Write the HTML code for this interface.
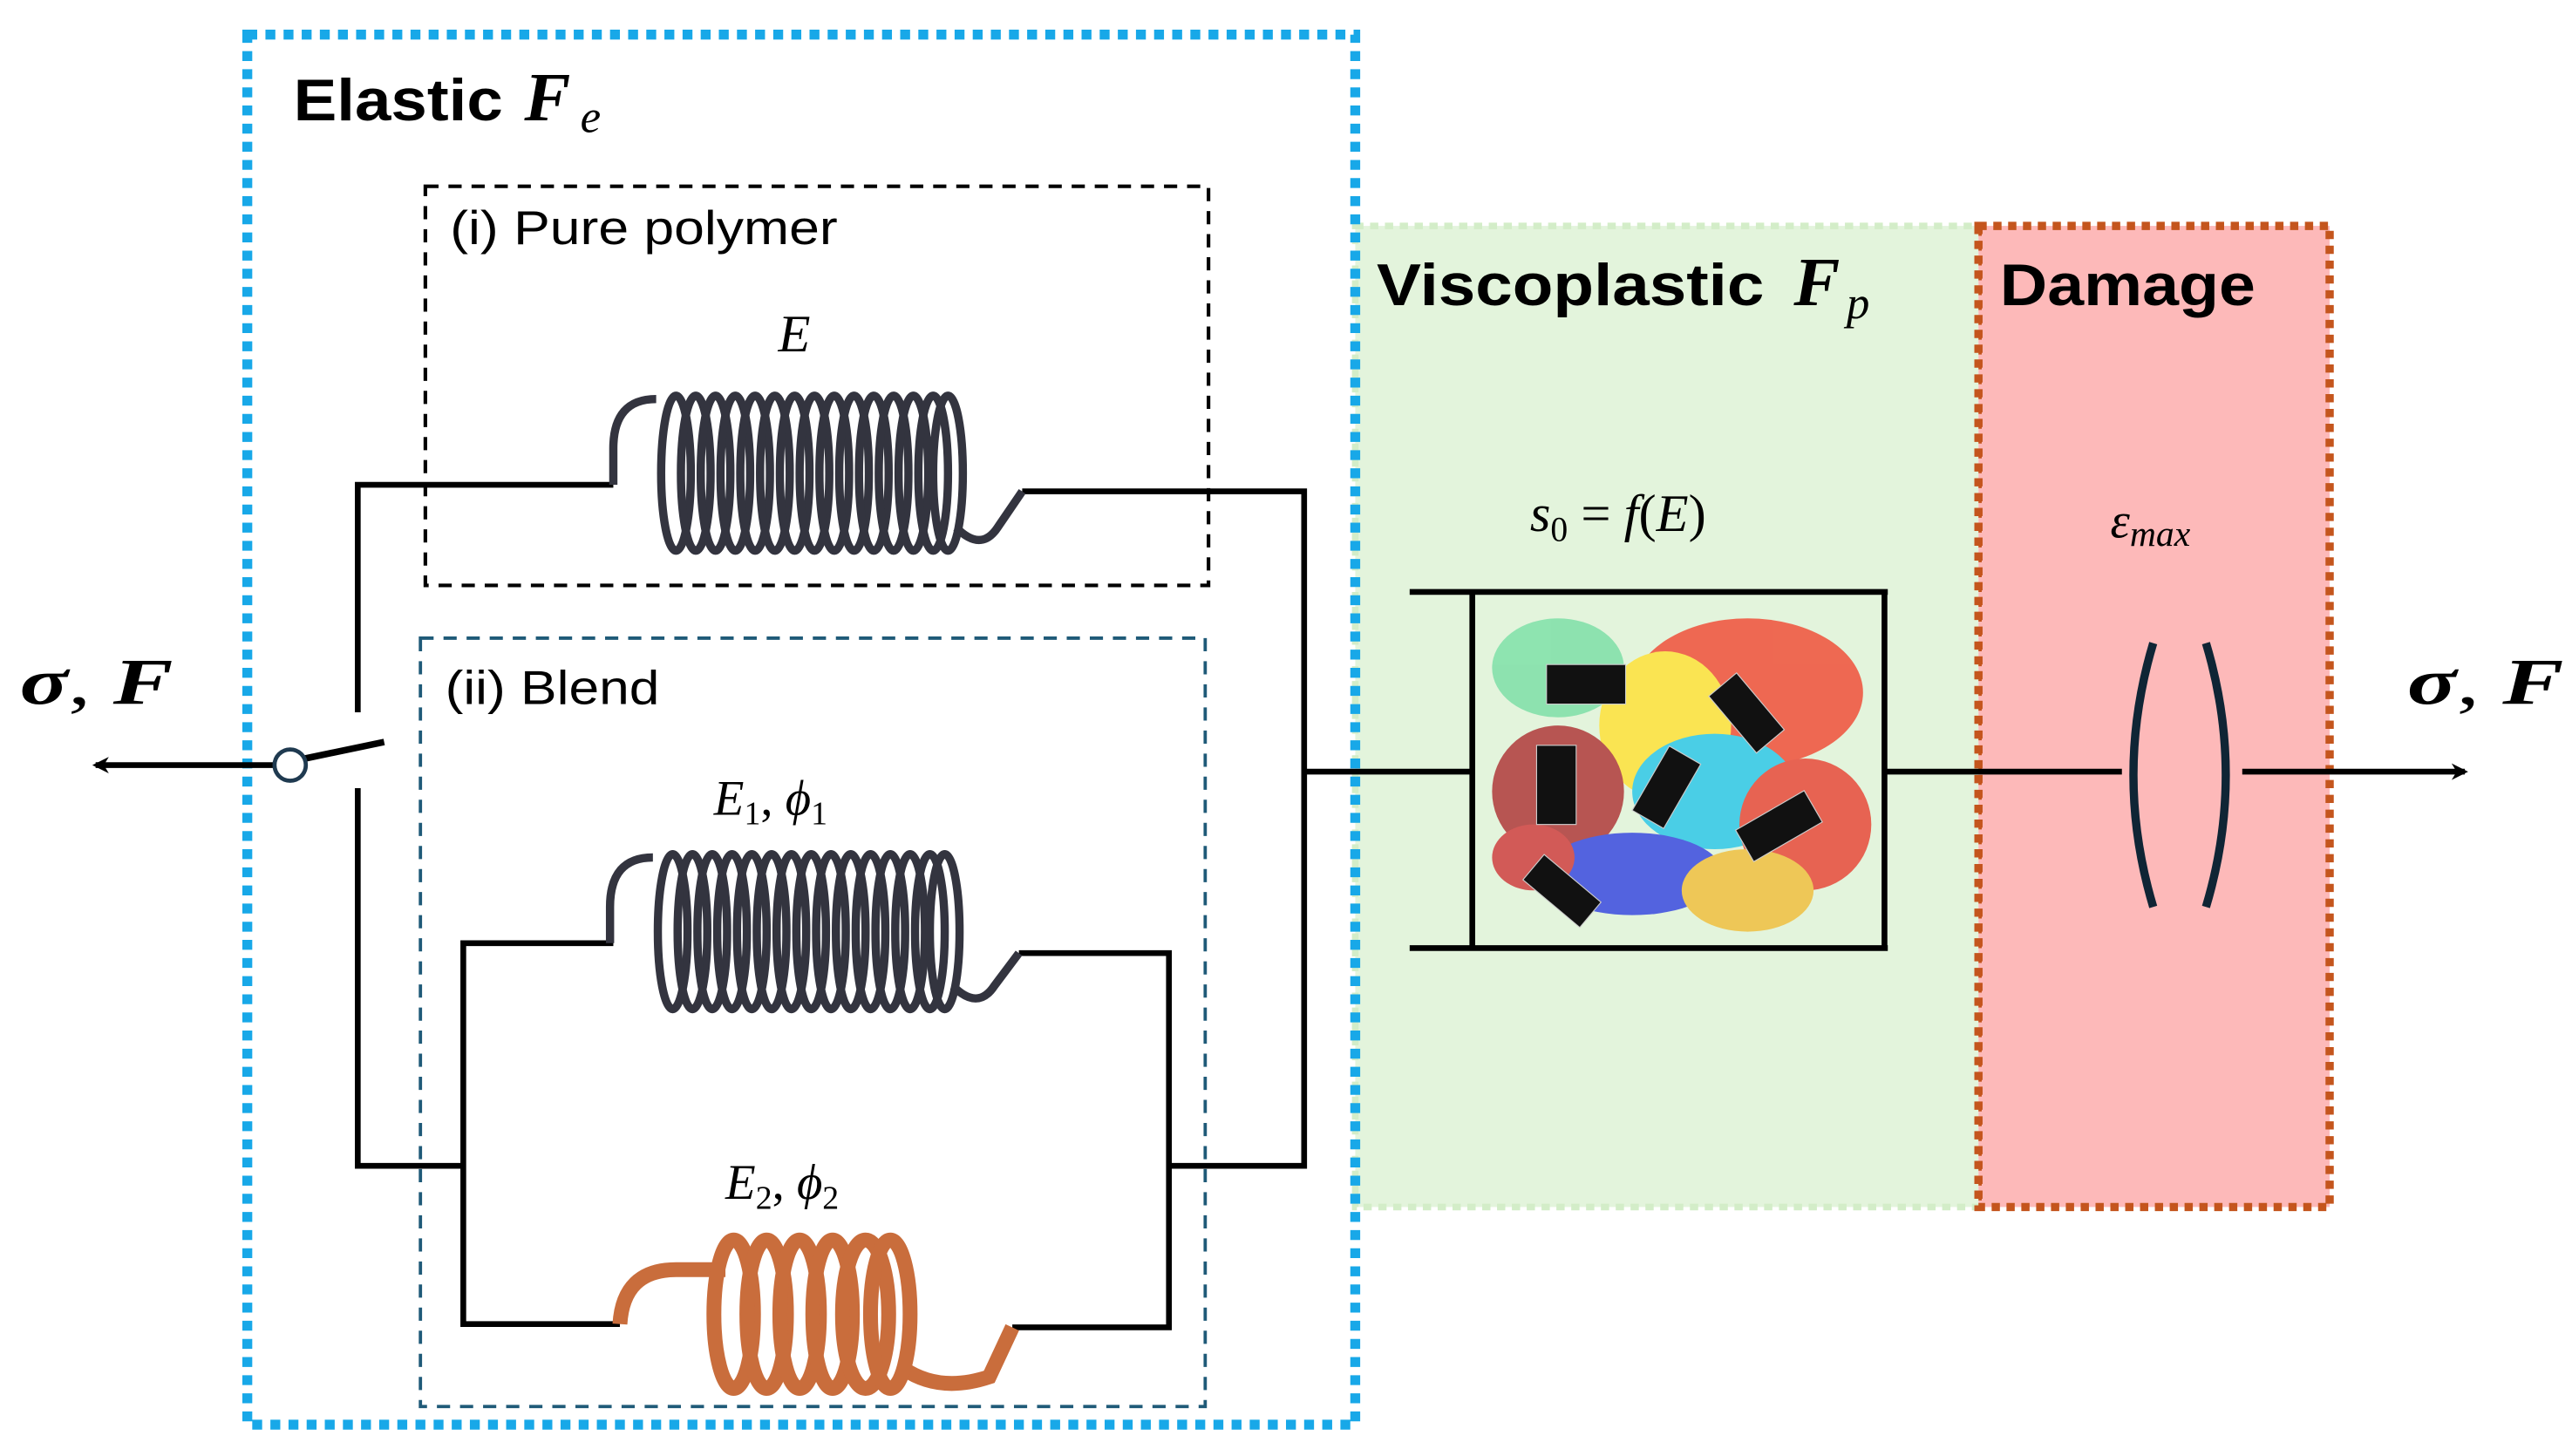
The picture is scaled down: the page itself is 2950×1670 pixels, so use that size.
<!DOCTYPE html>
<html><head><meta charset="utf-8"><style>
html,body{margin:0;padding:0;background:#fff}
svg{display:block}
.t{font-family:"Liberation Sans",sans-serif}
.m{font-family:"Liberation Serif",serif;font-style:italic}
</style></head><body>
<svg width="2950" height="1670" viewBox="0 0 1560 883" preserveAspectRatio="none" xmlns="http://www.w3.org/2000/svg">
<defs>
<marker id="ah" markerWidth="10" markerHeight="10" refX="8" refY="5" orient="auto" markerUnits="userSpaceOnUse"><path d="M0,0 L10,5 L0,10 L3,5 Z" fill="#000"/></marker>
</defs>
<rect x="822" y="137" width="378" height="595" fill="#e3f4dc" stroke="#d3edc8" stroke-width="4" stroke-dasharray="5 4"/>
<rect x="1200" y="137" width="213" height="595" fill="#fdb9b9"/>
<rect x="1200" y="137" width="213" height="595" fill="none" stroke="#c4551d" stroke-width="5" stroke-dasharray="5 4"/>
<line x1="1201" y1="140" x2="1201" y2="730" stroke="#c4551d" stroke-width="2" stroke-dasharray="3 6"/>
<rect x="150" y="21" width="672" height="843" fill="none" stroke="#18a8e8" stroke-width="6" stroke-dasharray="6 5"/>
<rect x="258" y="113" width="475" height="242" fill="none" stroke="#000" stroke-width="2.2" stroke-dasharray="8 6"/>
<rect x="255" y="387" width="476" height="466" fill="none" stroke="#1f5a78" stroke-width="2" stroke-dasharray="8 6"/>

<text x="178" y="73" class="t" font-size="36" font-weight="bold" textLength="127" lengthAdjust="spacingAndGlyphs">Elastic</text>
<text x="318" y="73" class="m" font-size="42" font-weight="bold">F</text><text x="352" y="80" class="m" font-size="28">e</text>
<text x="273" y="148" class="t" font-size="29" textLength="235" lengthAdjust="spacingAndGlyphs">(i) Pure polymer</text>
<text x="270" y="427" class="t" font-size="29" textLength="130" lengthAdjust="spacingAndGlyphs">(ii) Blend</text>
<text x="472" y="213" class="m" font-size="32">E</text>
<text x="433" y="494" class="m" font-size="30">E<tspan font-size="20" dy="6" font-style="normal">1</tspan><tspan dy="-6" font-style="normal">, </tspan>ϕ<tspan font-size="20" dy="6" font-style="normal">1</tspan></text>
<text x="440" y="727" class="m" font-size="30">E<tspan font-size="20" dy="6" font-style="normal">2</tspan><tspan dy="-6" font-style="normal">, </tspan>ϕ<tspan font-size="20" dy="6" font-style="normal">2</tspan></text>
<text x="835" y="185" class="t" font-size="36" font-weight="bold" textLength="235" lengthAdjust="spacingAndGlyphs">Viscoplastic</text>
<text x="1088" y="185" class="m" font-size="42" font-weight="bold">F</text><text x="1120" y="193" class="m" font-size="28">p</text>
<text x="1213" y="185" class="t" font-size="36" font-weight="bold" textLength="155" lengthAdjust="spacingAndGlyphs">Damage</text>
<text x="928" y="322" class="m" font-size="32">s<tspan font-size="21" dy="6" font-style="normal">0</tspan><tspan dy="-6" font-style="normal"> = </tspan>f<tspan font-style="normal">(</tspan>E<tspan font-style="normal">)</tspan></text>
<text x="1280" y="326" class="m" font-size="30">ε<tspan font-size="22" dy="5">max</tspan></text>
<text x="12" y="427" class="m" font-size="40" font-weight="bold" textLength="93" lengthAdjust="spacingAndGlyphs">σ<tspan font-style="normal" font-weight="normal">, </tspan>F</text>
<text x="1460" y="427" class="m" font-size="40" font-weight="bold" textLength="95" lengthAdjust="spacingAndGlyphs">σ<tspan font-style="normal" font-weight="normal">, </tspan>F</text>

<g fill="none" stroke="#000" stroke-width="3.5">
<polyline points="217,432 217,294 372,294"/>
<polyline points="620,298 791,298 791,707 709,707"/>
<polyline points="217,478 217,707 281,707"/>
<polyline points="372,572 281,572 281,803 376,803"/>
<polyline points="618,578 709,578 709,805 614,805"/>
<line x1="791" y1="468" x2="893" y2="468"/>
<line x1="855" y1="359" x2="1145" y2="359"/>
<line x1="855" y1="575" x2="1145" y2="575"/>
<line x1="893" y1="359" x2="893" y2="575"/>
<line x1="1143" y1="359" x2="1143" y2="575"/>
<line x1="1143" y1="468" x2="1287" y2="468"/>
<line x1="1360" y1="468" x2="1495" y2="468" marker-end="url(#ah)"/>
<line x1="166" y1="464" x2="58" y2="464" marker-end="url(#ah)"/>
<line x1="185" y1="460" x2="233" y2="450" stroke-width="4"/>
</g>
<circle cx="176" cy="464" r="9.5" fill="#fff" stroke="#1f3a50" stroke-width="2.5"/>

<path d="M1306,390 Q1282,470 1306,550" fill="none" stroke="#0f2535" stroke-width="5"/>
<path d="M1338,390 Q1362,470 1338,550" fill="none" stroke="#0f2535" stroke-width="5"/>

<g fill="none" stroke="#33343f" stroke-width="5">
<path d="M372,294 L372,272 Q372,242 398,242"/>
<path d="M580,320 Q595,335 605,320 L620,298"/>
<ellipse cx="410" cy="287" rx="9" ry="47"/><ellipse cx="422" cy="287" rx="9" ry="47"/><ellipse cx="434" cy="287" rx="9" ry="47"/><ellipse cx="446" cy="287" rx="9" ry="47"/><ellipse cx="458" cy="287" rx="9" ry="47"/><ellipse cx="470" cy="287" rx="9" ry="47"/><ellipse cx="482" cy="287" rx="9" ry="47"/><ellipse cx="494" cy="287" rx="9" ry="47"/><ellipse cx="506" cy="287" rx="9" ry="47"/><ellipse cx="518" cy="287" rx="9" ry="47"/><ellipse cx="530" cy="287" rx="9" ry="47"/><ellipse cx="542" cy="287" rx="9" ry="47"/><ellipse cx="554" cy="287" rx="9" ry="47"/><ellipse cx="566" cy="287" rx="9" ry="47"/><ellipse cx="575" cy="287" rx="9" ry="47"/>
</g>
<g fill="none" stroke="#33343f" stroke-width="5" transform="translate(-2,278)">
<path d="M372,294 L372,272 Q372,242 398,242"/>
<path d="M580,320 Q595,335 605,320 L620,300"/>
<ellipse cx="410" cy="287" rx="9" ry="47"/><ellipse cx="422" cy="287" rx="9" ry="47"/><ellipse cx="434" cy="287" rx="9" ry="47"/><ellipse cx="446" cy="287" rx="9" ry="47"/><ellipse cx="458" cy="287" rx="9" ry="47"/><ellipse cx="470" cy="287" rx="9" ry="47"/><ellipse cx="482" cy="287" rx="9" ry="47"/><ellipse cx="494" cy="287" rx="9" ry="47"/><ellipse cx="506" cy="287" rx="9" ry="47"/><ellipse cx="518" cy="287" rx="9" ry="47"/><ellipse cx="530" cy="287" rx="9" ry="47"/><ellipse cx="542" cy="287" rx="9" ry="47"/><ellipse cx="554" cy="287" rx="9" ry="47"/><ellipse cx="566" cy="287" rx="9" ry="47"/><ellipse cx="575" cy="287" rx="9" ry="47"/>
</g>
<g fill="none" stroke="#c96d3c" stroke-width="9">
<path d="M376,803 Q378,770 410,770 L440,770"/>
<path d="M548,830 Q570,845 600,835 L614,805"/>
<ellipse cx="445" cy="797" rx="12" ry="45"/><ellipse cx="465" cy="797" rx="12" ry="45"/><ellipse cx="485" cy="797" rx="12" ry="45"/><ellipse cx="505" cy="797" rx="12" ry="45"/><ellipse cx="525" cy="797" rx="14" ry="45"/><ellipse cx="540" cy="797" rx="12" ry="45"/>
</g>

<g opacity="0.85">
<ellipse cx="945" cy="405" rx="40" ry="30" fill="#7fe0a8"/>
<ellipse cx="1060" cy="420" rx="70" ry="45" fill="#f0503a"/>
<ellipse cx="1010" cy="440" rx="40" ry="45" fill="#ffe23a"/>
<ellipse cx="945" cy="480" rx="40" ry="40" fill="#b03a3a"/>
<ellipse cx="1040" cy="480" rx="50" ry="35" fill="#30c8e8"/>
<ellipse cx="1095" cy="500" rx="40" ry="40" fill="#e84a3a"/>
<ellipse cx="990" cy="530" rx="55" ry="25" fill="#3a4ae0"/>
<ellipse cx="1060" cy="540" rx="40" ry="25" fill="#f0c040"/>
<ellipse cx="930" cy="520" rx="25" ry="20" fill="#d04040"/>
</g>
<g fill="#111" stroke="#ccc" stroke-width="0.6">
<rect x="938" y="403" width="48" height="24"/>
<rect x="932" y="452" width="24" height="48"/>
<rect x="1000" y="455" width="22" height="45" transform="rotate(30 1011 477)"/>
<rect x="1048" y="410" width="22" height="45" transform="rotate(-40 1059 432)"/>
<rect x="1055" y="490" width="48" height="22" transform="rotate(-30 1079 501)"/>
<rect x="925" y="530" width="45" height="20" transform="rotate(40 947 540)"/>
</g>
</svg>
</body></html>
